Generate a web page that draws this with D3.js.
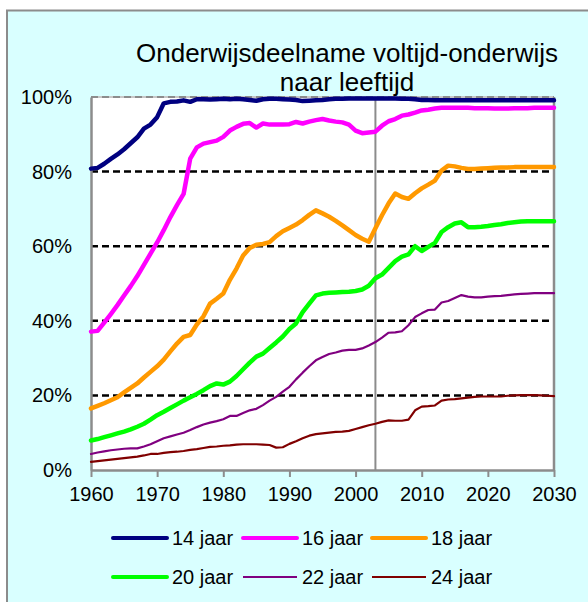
<!DOCTYPE html>
<html>
<head>
<meta charset="utf-8">
<script src="https://cdn.jsdelivr.net/npm/d3@7"></script>
<style>
  body { margin: 0; background: #ffffff; }
  text { font-family: "Liberation Sans", Arial, sans-serif; fill: #000; }
</style>
</head>
<body>
<script>
'use strict';

// years on the x axis
var years = [
  1960, 1961, 1962, 1963, 1964, 1965, 1966, 1967, 1968, 1969,
  1970, 1971, 1972, 1973, 1974, 1975, 1976, 1977, 1978, 1979,
  1980, 1981, 1982, 1983, 1984, 1985, 1986, 1987, 1988, 1989,
  1990, 1991, 1992, 1993, 1994, 1995, 1996, 1997, 1998, 1999,
  2000, 2001, 2002, 2003, 2004, 2005, 2006, 2007, 2008, 2009,
  2010, 2011, 2012, 2013, 2014, 2015, 2016, 2017, 2018, 2019,
  2020, 2021, 2022, 2023, 2024, 2025, 2026, 2027, 2028, 2029, 2030
];

var seriesNames = ["14 jaar", "16 jaar", "18 jaar", "20 jaar", "22 jaar", "24 jaar"];

// participation in % per age
var age14 = [
  80.8, 81.0, 82.1, 83.4, 84.6, 86.0, 87.6, 89.2, 91.5, 92.6,
  94.6, 98.3, 98.7, 98.8, 99.1, 98.7, 99.4, 99.4, 99.3, 99.4,
  99.5, 99.4, 99.5, 99.4, 99.2, 99.0, 99.4, 99.5, 99.5, 99.4,
  99.3, 99.2, 98.9, 99.0, 99.1, 99.2, 99.4, 99.5, 99.5, 99.6,
  99.6, 99.6, 99.6, 99.6, 99.6, 99.6, 99.6, 99.5, 99.5, 99.4,
  99.2, 99.2, 99.1, 99.1, 99.1, 99.1, 99.1, 99.1, 99.1, 99.1,
  99.1, 99.1, 99.1, 99.1, 99.1, 99.1, 99.1, 99.1, 99.1, 99.1, 99.1
];
var age16 = [
  37.1, 37.3, 39.5, 41.8, 44.2, 46.8, 49.3, 52.0, 55.0, 58.0,
  61.0, 64.3, 67.8, 71.0, 74.0, 83.5, 86.5, 87.5, 87.9, 88.3,
  89.3, 91.0, 92.0, 92.8, 93.0, 91.8, 92.9, 92.6, 92.6, 92.6,
  92.7, 93.3, 92.9, 93.4, 93.8, 94.1, 93.7, 93.4, 93.2, 92.6,
  91.0, 90.3, 90.5, 90.7, 92.3, 93.5, 94.1, 95.0, 95.3, 95.8,
  96.4, 96.6, 96.9, 97.1, 97.1, 97.1, 97.1, 97.1, 97.0, 97.0,
  97.0, 96.9, 96.9, 96.9, 97.0, 97.0, 97.0, 97.1, 97.1, 97.1, 97.1
];
var age18 = [
  16.5, 17.2, 17.9, 18.7, 19.5, 20.8, 22.0, 23.2, 24.8, 26.3,
  27.8, 29.6, 31.8, 33.9, 35.7, 36.2, 39.0, 41.2, 44.6, 45.9,
  47.3, 51.0, 54.0, 57.5, 59.5, 60.4, 60.6, 61.1, 62.7, 64.0,
  64.9, 65.8, 67.0, 68.4, 69.6, 68.8, 67.9, 66.8, 65.6, 64.3,
  63.0, 62.0, 61.2, 64.8, 68.3, 71.5, 74.1, 73.2, 72.7, 74.2,
  75.5, 76.5, 77.6, 80.3, 81.6, 81.4, 81.0, 80.7, 80.7, 80.8,
  80.9, 81.0, 81.1, 81.1, 81.2, 81.2, 81.2, 81.2, 81.2, 81.2, 81.2
];
var age20 = [
  7.9, 8.3, 8.8, 9.3, 9.8, 10.3, 10.9, 11.6, 12.4, 13.5,
  14.7, 15.6, 16.6, 17.6, 18.6, 19.5, 20.4, 21.4, 22.5, 23.2,
  22.9, 23.7, 25.2, 27.0, 28.8, 30.4, 31.2, 32.7, 34.2, 35.8,
  37.8, 39.3, 42.3, 44.6, 46.8, 47.3, 47.5, 47.6, 47.7, 47.8,
  48.0, 48.4, 49.4, 51.4, 52.4, 54.2, 56.0, 57.2, 57.8, 60.0,
  58.7, 59.8, 60.9, 63.8, 65.1, 66.1, 66.4, 65.1, 65.1, 65.2,
  65.4, 65.7, 65.9, 66.2, 66.4, 66.6, 66.7, 66.7, 66.7, 66.7, 66.7
];
var age22 = [
  4.3, 4.7, 5.0, 5.3, 5.5, 5.7, 5.8, 5.8, 6.3, 6.9,
  7.7, 8.5, 9.0, 9.5, 10.0, 10.7, 11.5, 12.2, 12.7, 13.1,
  13.6, 14.5, 14.5, 15.3, 16.0, 16.4, 17.4, 18.6, 19.6, 21.0,
  22.3, 24.3, 26.1, 27.8, 29.4, 30.3, 31.1, 31.5, 32.0, 32.2,
  32.2, 32.6, 33.4, 34.3, 35.5, 36.8, 36.9, 37.2, 38.8, 41.0,
  42.0, 42.9, 43.0, 44.9, 45.3, 46.1, 46.9, 46.5, 46.3, 46.3,
  46.5, 46.6, 46.7, 46.9, 47.1, 47.2, 47.3, 47.4, 47.4, 47.4, 47.4
];
var age24 = [
  2.2, 2.4, 2.6, 2.8, 3.0, 3.2, 3.4, 3.6, 3.9, 4.3,
  4.3, 4.6, 4.8, 4.9, 5.1, 5.4, 5.6, 5.9, 6.2, 6.3,
  6.5, 6.6, 6.8, 6.9, 6.9, 6.9, 6.8, 6.7, 6.0, 6.1,
  7.0, 7.7, 8.5, 9.2, 9.6, 9.8, 10.0, 10.2, 10.3, 10.5,
  11.0, 11.5, 12.0, 12.4, 12.9, 13.3, 13.2, 13.2, 13.5, 16.0,
  17.0, 17.1, 17.3, 18.6, 18.9, 19.0, 19.2, 19.4, 19.6, 19.7,
  19.7, 19.7, 19.7, 19.9, 20.0, 20.1, 20.1, 20.1, 20.0, 19.9, 19.8
];

var xTicks = [1960, 1970, 1980, 1990, 2000, 2010, 2020, 2030];
var yTicks = [0, 20, 40, 60, 80, 100];
var markerYear = 2003;

var seriesValues = [age14, age16, age18, age20, age22, age24];
var colors = ["#000080", "#ff00ff", "#ff9900", "#00ff00", "#800080", "#800000"];
var widths = [4.5, 4.5, 4.5, 4.5, 2.2, 2.2];

var W = 588, H = 602;
var plotLeft = 91, plotRight = 554, plotTop = 97, plotBottom = 470;

var svg = d3.select("body").append("svg")
    .attr("width", W)
    .attr("height", H);

// light cyan panel with grey frame
svg.append("rect")
    .attr("x", 7)
    .attr("y", 10.5)
    .attr("width", 600)
    .attr("height", 620)
    .attr("fill", "#d9ffff")
    .attr("stroke", "#8c8c8c")
    .attr("stroke-width", 2);

// title
svg.append("text")
    .attr("x", 347)
    .attr("y", 62)
    .attr("text-anchor", "middle")
    .style("font-size", "26px")
    .text("Onderwijsdeelname voltijd-onderwijs");
svg.append("text")
    .attr("x", 347)
    .attr("y", 91)
    .attr("text-anchor", "middle")
    .style("font-size", "26px")
    .text("naar leeftijd");

var x = d3.scaleLinear().domain([1960, 2030]).range([plotLeft, plotRight]);
var y = d3.scaleLinear().domain([0, 100]).range([plotBottom, plotTop]);

// white plot area
svg.append("rect")
    .attr("x", plotLeft)
    .attr("y", plotTop)
    .attr("width", plotRight - plotLeft)
    .attr("height", plotBottom - plotTop)
    .attr("fill", "#ffffff");

// dashed gridlines
svg.selectAll(".grid")
    .data(yTicks.filter(function(d) { return d > 0 && d < 100; }))
  .enter().append("line")
    .attr("class", "grid")
    .attr("x1", plotLeft)
    .attr("x2", plotRight)
    .attr("y1", function(d) { return y(d); })
    .attr("y2", function(d) { return y(d); })
    .attr("stroke", "#000")
    .attr("stroke-width", 2.5)
    .attr("stroke-dasharray", "7,4");

// top edge (100%)
svg.append("line")
    .attr("x1", plotLeft).attr("x2", plotRight)
    .attr("y1", y(100)).attr("y2", y(100))
    .attr("stroke", "#c8c8c8")
    .attr("stroke-width", 2);
svg.append("line")
    .attr("x1", plotLeft).attr("x2", plotRight)
    .attr("y1", y(100)).attr("y2", y(100))
    .attr("stroke", "#8c8c8c")
    .attr("stroke-width", 2)
    .attr("stroke-dasharray", "7,4");

// right edge
svg.append("line")
    .attr("x1", plotRight).attr("x2", plotRight)
    .attr("y1", plotTop).attr("y2", plotBottom)
    .attr("stroke", "#8c8c8c")
    .attr("stroke-width", 2.5);

// vertical marker line
svg.append("line")
    .attr("x1", x(markerYear)).attr("x2", x(markerYear))
    .attr("y1", plotTop).attr("y2", plotBottom)
    .attr("stroke", "#8c8c8c")
    .attr("stroke-width", 2);

// axes
var xAxis = svg.append("g")
    .attr("transform", "translate(0," + plotBottom + ")")
    .call(d3.axisBottom(x)
      .tickValues(xTicks)
      .tickFormat(d3.format("d"))
      .tickSize(7)
      .tickSizeOuter(0)
      .tickPadding(10));

var yAxis = svg.append("g")
    .attr("transform", "translate(" + plotLeft + ",0)")
    .call(d3.axisLeft(y)
      .tickValues(yTicks)
      .tickFormat(function(d) { return d + "%"; })
      .tickSize(0)
      .tickPadding(19));

[xAxis, yAxis].forEach(function(ax) {
  ax.select(".domain").attr("stroke", "#8c8c8c").attr("stroke-width", 2.5);
  ax.selectAll(".tick line").attr("stroke", "#8c8c8c").attr("stroke-width", 2);
  ax.selectAll(".tick text")
    .style("font-size", "20px")
    .style("font-family", "'Liberation Sans', Arial, sans-serif")
    .attr("fill", "#000");
});

// series lines
var line = d3.line()
    .x(function(d) { return x(d[0]); })
    .y(function(d) { return y(d[1]); });

seriesValues.forEach(function(vals, i) {
  var pts = years.map(function(yr, j) { return [yr, vals[j]]; });
  svg.append("path")
    .datum(pts)
    .attr("d", line)
    .attr("fill", "none")
    .attr("stroke", colors[i])
    .attr("stroke-width", widths[i])
    .attr("stroke-linejoin", "round")
    .attr("stroke-linecap", "round");
});

// legend, two rows of three
var legX = [113, 243, 372];
var legY = [538, 577];
var legend = svg.selectAll(".legend")
    .data(seriesNames)
  .enter().append("g")
    .attr("class", "legend")
    .attr("transform", function(d, i) {
      return "translate(" + legX[i % 3] + "," + legY[Math.floor(i / 3)] + ")";
    });

legend.append("line")
    .attr("x1", 0)
    .attr("x2", 54)
    .attr("y1", 0)
    .attr("y2", 0)
    .attr("stroke", function(d, i) { return colors[i]; })
    .attr("stroke-width", function(d, i) { return i < 4 ? 4 : 2; })
    .attr("stroke-linecap", function(d, i) { return i < 4 ? "round" : "butt"; });

legend.append("text")
    .attr("x", 59)
    .attr("y", 7)
    .style("font-size", "20px")
    .text(function(d) { return d; });
</script>
</body>
</html>
